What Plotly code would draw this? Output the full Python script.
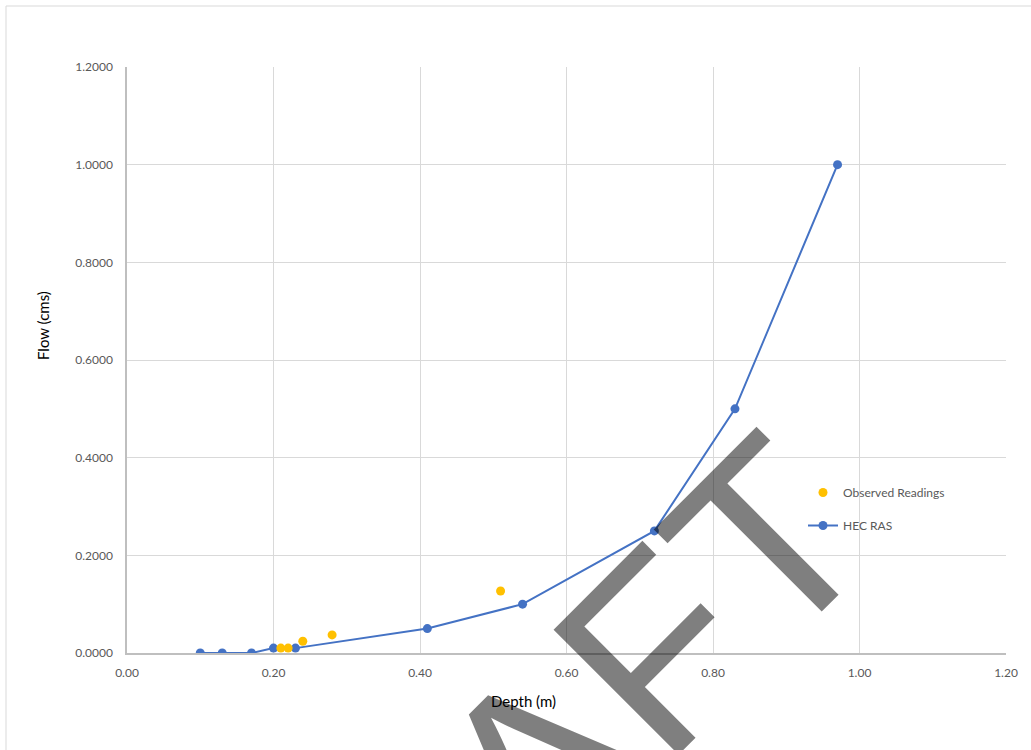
import plotly.graph_objects as go

# HEC RAS rating curve: depth (m) vs flow (cms)
hec_depth = [0.10, 0.13, 0.17, 0.20, 0.23, 0.41, 0.54, 0.72, 0.83, 0.97]
hec_flow = [0.0, 0.0, 0.0, 0.01, 0.01, 0.05, 0.10, 0.25, 0.50, 1.00]

# Field observations
obs_depth = [0.21, 0.22, 0.24, 0.28, 0.51]
obs_flow = [0.01, 0.01, 0.024, 0.037, 0.127]

x_ticks = [0.0, 0.2, 0.4, 0.6, 0.8, 1.0, 1.2]
x_tick_text = ["0.00", "0.20", "0.40", "0.60", "0.80", "1.00", "1.20"]
y_ticks = [0.0, 0.2, 0.4, 0.6, 0.8, 1.0, 1.2]
y_tick_text = ["0.0000", "0.2000", "0.4000", "0.6000", "0.8000", "1.0000", "1.2000"]

W, H = 1031, 750
ML, MR, MT, MB = 127, 25, 67, 97
PW, PH = W - ML - MR, H - MT - MB


def px_x(p):
    return (p - ML) / PW


def px_y(p):
    return (H - MB - p) / PH


FONT = "Lato, 'Liberation Sans', sans-serif"
TICK_COLOR = "#595959"

fig = go.Figure()

fig.add_trace(go.Scatter(
    x=hec_depth, y=hec_flow, name="HEC RAS", mode="lines+markers",
    line=dict(color="#4472C4", width=2),
    marker=dict(color="#4472C4", size=9),
    legendgroup="hec", legendrank=2,
))
fig.add_trace(go.Scatter(
    x=obs_depth, y=obs_flow, name="Observed Readings", mode="markers",
    marker=dict(color="#FFC000", size=9),
    legendgroup="obs", legendrank=1,
))

axis_common = dict(
    showgrid=True, gridcolor="#D9D9D9", gridwidth=1,
    showline=True, linecolor="#BFBFBF", linewidth=1.5,
    zeroline=False, ticks="", range=[0, 1.2],
    tickfont=dict(family=FONT, size=12, color=TICK_COLOR),
)

fig.update_xaxes(tickvals=x_ticks, ticktext=x_tick_text,
                 ticklabelstandoff=8, **axis_common)
fig.update_yaxes(tickvals=y_ticks, ticktext=y_tick_text,
                 ticklabelstandoff=10, **axis_common)

fig.update_layout(
    width=W, height=H,
    margin=dict(l=ML, r=MR, t=MT, b=MB),
    paper_bgcolor="white", plot_bgcolor="white",
    font=dict(family=FONT),
    legend=dict(
        x=px_x(803), y=px_y(478), xanchor="left", yanchor="top",
        font=dict(family=FONT, size=12, color=TICK_COLOR),
        traceorder="grouped", tracegroupgap=14,
        bgcolor="rgba(0,0,0,0)",
    ),
    shapes=[
        # chart-area frame
        dict(type="rect", xref="paper", yref="paper",
             x0=px_x(6), y0=px_y(6), x1=px_x(W + 20), y1=px_y(H + 20),
             line=dict(color="#D9D9D9", width=1), layer="below"),
    ],
    annotations=[
        dict(text="Flow (cms)", xref="paper", yref="paper",
             x=px_x(43), y=px_y(326), textangle=-90, showarrow=False,
             font=dict(family=FONT, size=15, color="#000000"),
             xanchor="center", yanchor="middle"),
        dict(text="Depth (m)", xref="paper", yref="paper",
             x=px_x(523), y=px_y(701), showarrow=False,
             font=dict(family=FONT, size=15, color="#000000"),
             xanchor="center", yanchor="middle"),
        # watermark
        dict(text="DRAFT", xref="paper", yref="paper",
             x=px_x(519), y=px_y(787), textangle=-45, showarrow=False,
             font=dict(family="'Liberation Sans', Arial, sans-serif",
                       size=257, color="rgba(0,0,0,0.5)"),
             xanchor="center", yanchor="middle"),
    ],
)

fig.write_html("out.html")
